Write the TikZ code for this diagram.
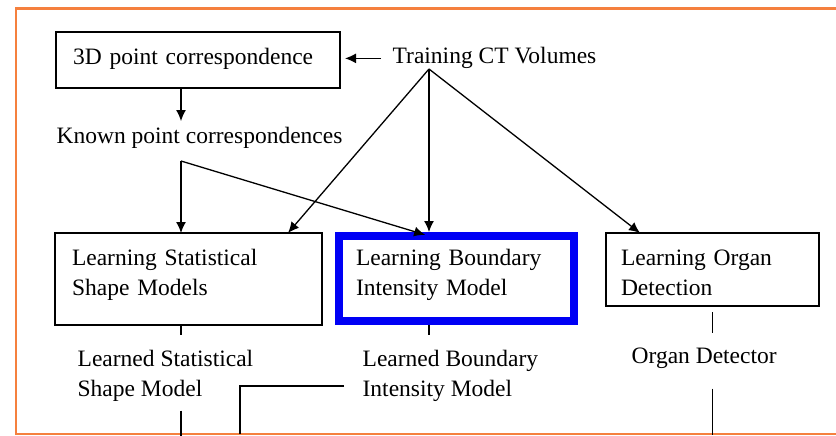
\documentclass[tikz,border=0pt]{standalone}
\usepackage{fontspec}
\setmainfont{Liberation Serif}
\usepackage{tikz}
\usetikzlibrary{arrows.meta, calc, positioning}
\definecolor{frameorange}{RGB}{245,128,62}
\definecolor{hiblue}{RGB}{0,0,245}

\begin{document}
\begin{tikzpicture}[>={Latex[length=11pt,width=10pt]}, x=1pt, y=-1pt, line width=1.3pt,
    font=\fontsize{23.5pt}{30pt}\selectfont]
    % Define styles locally
    \tikzstyle{box} = [draw, line width=2pt, anchor=north west, inner ysep=0pt, outer sep=0pt, align=left]
    \tikzstyle{txt} = [anchor=base west, inner sep=0pt, align=left]

    \useasboundingbox (0,0) rectangle (836,436);

    % Frame
    \draw[frameorange, line width=2.5pt] (836,8.5) -| (16,434) -- (836,434);

    % Boxes
    \node[box, text width=250pt, inner xsep=17pt, text height=33pt, text depth=23pt] (pc) at (56,32) {3D point correspondence};
    \node[box, text width=233pt, inner xsep=17pt, text height=32pt, text depth=60pt] (ssm) at (55,233) {Learning Statistical\\Shape Models};
    \node[box, draw=hiblue, line width=8pt, text width=201pt, inner xsep=17pt, text height=29pt, text depth=56pt] (lbim) at (339,236) {Learning Boundary\\Intensity Model};
    \node[box, text width=183pt, inner xsep=15pt, text height=32pt, text depth=41pt] (org) at (606,233) {Learning Organ\\Detection};

    % Texts (base = last line)
    \node[txt] (trn) at (392,64) {Training CT Volumes};
    \node[txt] (kn) at (56,143) {Known point correspondences};
    \node[txt] (lssm) at (77,396) {Learned Statistical\\Shape Model};
    \node[txt] (lbi) at (362,396) {Learned Boundary\\Intensity Model};
    \node[txt] (det) at (631,363) {Organ Detector};

    % Junctions
    \coordinate (apex) at (429,69);
    \coordinate (kj) at (181,161);

    % Volumes -> point correspondence
    \draw[->, shorten >=5pt] ([xshift=-11pt]trn.west) -- (pc.east |- trn.west);
    \draw[->, shorten >=5pt] (pc.south -| kj) -- (kj |- kn.north);

    % Volumes -> learning boxes
    \draw[->] (apex) -- ($(ssm.north west)+(233,0)$);
    \draw[->, shorten >=4pt] (apex) -- (apex |- lbim.north);
    \draw[->] (apex) -- ($(org.north west)+(34,0)$);

    % Correspondences -> learning boxes
    \draw[->] (kj) -- (kj |- ssm.north);
    \draw[->, shorten >=4pt] (kj) -- (apex |- lbim.north);

    % Outputs
    \draw (ssm.south -| kj) -- ++(0,10);
    \draw ($(lssm.south -| kj)+(0,9)$) -- ++(0,25);
    \draw ($(apex |- lbim.south)+(0,4)$) -- ++(0,10);
    \draw[line width=2.5pt] ($(lbi.base west)+(-18,-10)$) -| ++(-104,48);
    \draw ($(org.south)+(0,6)$) -- ++(0,21);
    \draw ($(org.south |- det.south)+(0,20)$) -- ++(0,46);

\end{tikzpicture}
\end{document}
